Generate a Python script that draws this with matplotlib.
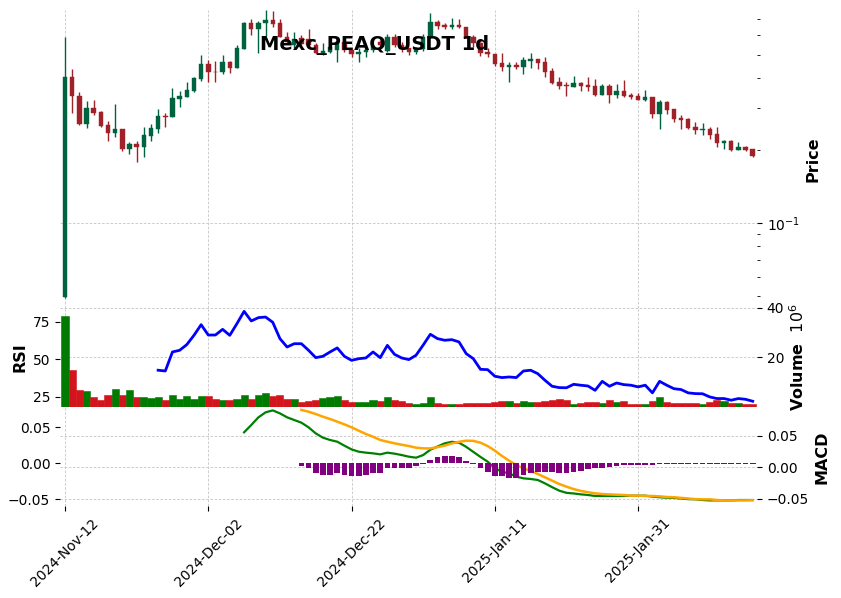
import numpy as np
import pandas as pd
import matplotlib
matplotlib.use("Agg")
import matplotlib.pyplot as plt
from matplotlib.ticker import LogLocator, NullFormatter, FixedLocator

# ---- data (daily candles, Mexc PEAQ/USDT) ----
dates = pd.date_range("2024-11-12", periods=97, freq="D")

opens = [0.0493, 0.4035, 0.3365, 0.2576, 0.3000, 0.2888, 0.2551, 0.2363, 0.2455, 0.2028,
         0.2127, 0.2067, 0.2296, 0.2455, 0.2780, 0.2754, 0.3270, 0.3333, 0.3530, 0.3959,
         0.4568, 0.4250, 0.4232, 0.4656, 0.4396, 0.5272, 0.6759, 0.6383, 0.6759, 0.6956,
         0.6759, 0.5914, 0.5478, 0.5857, 0.5802, 0.5478, 0.5075, 0.5123, 0.5222, 0.5637,
         0.5222, 0.5026, 0.5123, 0.5222, 0.5637, 0.5172, 0.5914, 0.5478, 0.5323, 0.5123,
         0.5272, 0.5857, 0.6823, 0.6631, 0.6506, 0.6631, 0.6506, 0.5914, 0.5584, 0.5123,
         0.5026, 0.4612, 0.4438, 0.4524, 0.4438, 0.4701, 0.4792, 0.4656, 0.4272, 0.3847,
         0.3738, 0.3667, 0.3810, 0.3738, 0.3703, 0.3398, 0.3703, 0.3398, 0.3530, 0.3398,
         0.3365, 0.3239, 0.3333, 0.2834, 0.3178, 0.2972, 0.2728, 0.2701, 0.2502, 0.2432,
         0.2455, 0.2341, 0.2148, 0.2189, 0.2009, 0.2067, 0.2028]
highs = [0.5914, 0.4355, 0.3497, 0.3208, 0.3239, 0.2916, 0.2650, 0.3117, 0.2455, 0.2168,
         0.2189, 0.2502, 0.2576, 0.2972, 0.2860, 0.3633, 0.3530, 0.3847, 0.4035, 0.4979,
         0.4746, 0.4701, 0.4979, 0.4701, 0.5478, 0.6823, 0.7023, 0.6890, 0.7653, 0.7581,
         0.7023, 0.6203, 0.6203, 0.6028, 0.6383, 0.5584, 0.5584, 0.5746, 0.5746, 0.5746,
         0.5222, 0.5323, 0.5323, 0.5530, 0.5746, 0.6086, 0.6086, 0.5637, 0.5323, 0.5375,
         0.6086, 0.7437, 0.6956, 0.6759, 0.7090, 0.7023, 0.6506, 0.6028, 0.5637, 0.5323,
         0.5026, 0.5075, 0.4656, 0.4656, 0.4884, 0.5075, 0.4792, 0.4884, 0.4396, 0.4035,
         0.3847, 0.4074, 0.3847, 0.4035, 0.3959, 0.3774, 0.3774, 0.3774, 0.3921, 0.3463,
         0.3463, 0.3564, 0.3333, 0.3239, 0.3208, 0.2972, 0.2806, 0.2728, 0.2625, 0.2600,
         0.2502, 0.2502, 0.2210, 0.2210, 0.2168, 0.2087, 0.2028]
lows = [0.0490, 0.2860, 0.2551, 0.2479, 0.2806, 0.2502, 0.2189, 0.2274, 0.1990, 0.1933,
        0.1791, 0.1879, 0.2189, 0.2363, 0.2502, 0.2754, 0.3029, 0.3333, 0.3497, 0.3883,
        0.3847, 0.3847, 0.4152, 0.4192, 0.4396, 0.5272, 0.6028, 0.5075, 0.5971, 0.6506,
        0.5914, 0.5530, 0.5323, 0.5375, 0.5375, 0.5026, 0.4979, 0.5075, 0.4656, 0.5123,
        0.4884, 0.4656, 0.4884, 0.5123, 0.5323, 0.5123, 0.5375, 0.5123, 0.4979, 0.5026,
        0.5172, 0.5857, 0.6383, 0.6383, 0.6383, 0.6444, 0.5857, 0.5375, 0.4931, 0.4884,
        0.4481, 0.4272, 0.3847, 0.4355, 0.4152, 0.4396, 0.4355, 0.4035, 0.3774, 0.3597,
        0.3365, 0.3667, 0.3530, 0.3530, 0.3365, 0.3398, 0.3147, 0.3302, 0.3333, 0.3270,
        0.3239, 0.3208, 0.2728, 0.2455, 0.2834, 0.2625, 0.2455, 0.2455, 0.2341, 0.2318,
        0.2231, 0.2067, 0.2028, 0.1990, 0.2009, 0.1990, 0.1879]
closes = [0.4035, 0.3365, 0.2576, 0.3000, 0.2860, 0.2527, 0.2363, 0.2455, 0.2028, 0.2127,
          0.2067, 0.2318, 0.2479, 0.2780, 0.2754, 0.3302, 0.3365, 0.3564, 0.3997, 0.4568,
          0.4232, 0.4232, 0.4656, 0.4396, 0.5323, 0.6759, 0.6383, 0.6759, 0.6956, 0.6694,
          0.5914, 0.5637, 0.5802, 0.5530, 0.5478, 0.5075, 0.5172, 0.5375, 0.5637, 0.5222,
          0.5026, 0.5123, 0.5222, 0.5425, 0.5478, 0.5914, 0.5478, 0.5272, 0.5123, 0.5272,
          0.5914, 0.6823, 0.6568, 0.6506, 0.6631, 0.6506, 0.5857, 0.5584, 0.5075, 0.5026,
          0.4568, 0.4438, 0.4524, 0.4438, 0.4746, 0.4792, 0.4612, 0.4232, 0.3810, 0.3703,
          0.3690, 0.3810, 0.3703, 0.3667, 0.3398, 0.3703, 0.3398, 0.3530, 0.3365, 0.3333,
          0.3239, 0.3333, 0.2834, 0.3178, 0.2944, 0.2701, 0.2676, 0.2479, 0.2432, 0.2455,
          0.2318, 0.2148, 0.2189, 0.2009, 0.2067, 0.2009, 0.1897]

# volume in millions
volume = [36.7, 14.8, 6.8, 6.4, 4.0, 2.7, 4.8, 7.2, 4.8, 6.8,
          4.0, 4.0, 3.5, 4.0, 2.7, 4.8, 3.1, 4.4, 3.1, 4.4,
          4.4, 3.1, 2.7, 2.7, 3.1, 4.8, 3.1, 4.8, 5.6, 4.4,
          4.8, 3.1, 3.1, 2.1, 2.3, 2.7, 3.4, 3.8, 4.2, 2.7,
          1.9, 1.9, 1.9, 2.7, 2.3, 3.8, 2.7, 2.3, 1.5, 1.0,
          1.7, 3.8, 1.5, 1.1, 1.1, 1.1, 1.4, 1.4, 1.4, 1.4,
          1.8, 2.2, 2.2, 1.4, 2.2, 1.8, 1.8, 2.2, 2.6, 3.1,
          2.6, 1.1, 1.4, 1.8, 1.8, 1.4, 2.7, 1.8, 2.2, 1.1,
          1.0, 1.0, 2.2, 3.8, 1.8, 1.4, 1.4, 1.4, 1.4, 1.0,
          1.8, 2.6, 2.2, 1.4, 1.4, 1.0, 1.0]

nan = np.nan
rsi = [nan] * 13 + [
    42.7, 42.2, 54.9, 56.0, 59.8, 66.0, 73.1, 66.2, 66.2, 70.0,
    66.0, 73.8, 82.0, 75.6, 77.8, 78.2, 74.7, 63.8, 58.2, 60.4,
    60.4, 56.0, 51.1, 52.0, 54.9, 57.6, 52.0, 49.3, 50.4, 50.9,
    54.9, 51.1, 59.3, 53.3, 50.9, 49.8, 52.7, 59.5, 66.7, 63.8,
    62.7, 63.1, 61.6, 53.8, 50.4, 43.3, 43.1, 38.7, 37.8, 38.2,
    37.8, 42.2, 42.7, 40.4, 36.0, 32.0, 31.1, 31.0, 33.3, 32.7,
    32.2, 29.3, 35.3, 32.0, 34.2, 33.1, 32.7, 31.6, 32.7, 27.6,
    35.3, 32.7, 30.4, 29.8, 27.6, 27.1, 27.0, 24.9, 23.8, 23.8,
    22.7, 23.8, 23.3, 22.0]

macd_line = [nan] * 25 + [
    0.0551, 0.0667, 0.0789, 0.0868, 0.0899, 0.0852, 0.0789, 0.0746, 0.0704, 0.0630,
    0.0534, 0.0466, 0.0429, 0.0402, 0.0339, 0.0280, 0.0243, 0.0228, 0.0217, 0.0201,
    0.0228, 0.0212, 0.0190, 0.0164, 0.0148, 0.0190, 0.0275, 0.0325, 0.0376, 0.0400,
    0.0386, 0.0320, 0.0240, 0.0160, 0.0085, -0.0020, -0.0074, -0.0100, -0.0153, -0.0180,
    -0.0190, -0.0206, -0.0260, -0.0320, -0.0376, -0.0410, -0.0420, -0.0434, -0.0444, -0.0460,
    -0.0460, -0.0460, -0.0460, -0.0460, -0.0455, -0.0455, -0.0455, -0.0470, -0.0480, -0.0487,
    -0.0490, -0.0500, -0.0510, -0.0513, -0.0524, -0.0530, -0.0530, -0.0530, -0.0530, -0.0524,
    -0.0524, -0.0524]

signal_line = [nan] * 33 + [
    0.0905, 0.0878, 0.0841, 0.0799, 0.0762, 0.0720, 0.0677, 0.0630, 0.0577, 0.0524,
    0.0481, 0.0429, 0.0402, 0.0376, 0.0354, 0.0333, 0.0307, 0.0296, 0.0295, 0.0315,
    0.0340, 0.0375, 0.0400, 0.0418, 0.0415, 0.0386, 0.0333, 0.0260, 0.0175, 0.0100,
    0.0030, -0.0020, -0.0064, -0.0110, -0.0164, -0.0217, -0.0270, -0.0312, -0.0350, -0.0380,
    -0.0400, -0.0418, -0.0429, -0.0435, -0.0440, -0.0445, -0.0455, -0.0455, -0.0460, -0.0460,
    -0.0466, -0.0476, -0.0480, -0.0490, -0.0500, -0.0510, -0.0513, -0.0513, -0.0524, -0.0530,
    -0.0530, -0.0530, -0.0530, -0.0527]

macd_hist = [nan] * 33 + [
    -0.0032, -0.0069, -0.0130, -0.0162, -0.0162, -0.0130, -0.0162, -0.0176, -0.0176, -0.0162,
    -0.0130, -0.0130, -0.0069, -0.0060, -0.0069, -0.0069, -0.0032, -0.0015, 0.0045, 0.0093,
    0.0106, 0.0106, 0.0093, 0.0030, -0.0010, -0.0060, -0.0120, -0.0170, -0.0180, -0.0200,
    -0.0200, -0.0160, -0.0140, -0.0120, -0.0120, -0.0120, -0.0140, -0.0140, -0.0120, -0.0100,
    -0.0080, -0.0070, -0.0060, -0.0045, -0.0040, -0.0030, -0.0030, -0.0020, -0.0018, -0.0018,
    -0.0015, -0.0015, -0.0015, -0.0014, -0.0014, -0.0013, -0.0013, -0.0012, -0.0012, -0.0011,
    -0.0011, -0.0010, -0.0010, -0.0010]

title = "Mexc_PEAQ_USDT 1d"
tick_idx = [0, 20, 40, 60, 80]

# ---- styling ----
up_col, down_col = "#006340", "#a02128"
vol_up, vol_down = "#007a00", "#d3141c"
grid_kw = dict(color="#c4c4c4", linestyle=(0, (3, 2)), linewidth=0.6)

o = np.array(opens); h = np.array(highs); l = np.array(lows); c = np.array(closes)
x = np.arange(len(o))
is_up = c >= o

W, H = 841, 598
fig = plt.figure(figsize=(W / 100, H / 100), dpi=100)
left, width = 60 / W, 697 / W
top_px, main_bot, rsi_bot, macd_bot = 10, 307.6, 406.8, 506

def rect(t, b):
    return [left, 1 - b / H, width, (b - t) / H]

ax_p = fig.add_axes(rect(top_px, main_bot))
ax_v = fig.add_axes(rect(main_bot, rsi_bot), sharex=ax_p)
ax_m = fig.add_axes(rect(rsi_bot, macd_bot), sharex=ax_p)
ax_r = ax_v.twinx()
ax_h = ax_m.twinx()

# ---- candles ----
cols = np.where(is_up, up_col, down_col)
ax_p.set_yscale("log")
ax_p.vlines(x, l, h, colors=cols, linewidth=1.0, zorder=2)
body_lo = np.minimum(o, c)
body_hi = np.maximum(o, c)
body_hi = np.maximum(body_hi, body_lo * 1.004)
ax_p.bar(x, body_hi - body_lo, bottom=body_lo, width=0.62, color=cols,
         edgecolor=cols, linewidth=0.3, zorder=3)
ax_p.set_ylim(0.0446, 0.7653)
ax_p.yaxis.tick_right()
ax_p.yaxis.set_major_locator(LogLocator(base=10, subs=(1.0,)))
ax_p.yaxis.set_minor_locator(LogLocator(base=10, subs=np.arange(2, 10)))
ax_p.yaxis.set_minor_formatter(NullFormatter())
ax_p.grid(True, which="major", **grid_kw)
ax_p.set_axisbelow(True)

# ---- volume + RSI ----
vcols = np.where(is_up, vol_up, vol_down)
ax_v.bar(x, volume, width=1.0, color=vcols, edgecolor=vcols, linewidth=0.4, zorder=2)
ax_v.set_ylim(0, 40)
ax_v.yaxis.tick_right()
ax_v.yaxis.set_major_locator(FixedLocator([20, 40]))
ax_v.grid(True, **grid_kw)
ax_v.set_axisbelow(True)

ax_r.plot(x, rsi, color="blue", linewidth=2.0, zorder=4)
ax_r.set_ylim(18.3, 84.5)
ax_r.yaxis.tick_left()
ax_r.yaxis.set_major_locator(FixedLocator([25, 50, 75]))

# ---- MACD ----
ax_m.plot(x, macd_line, color="green", linewidth=1.6, zorder=3)
ax_m.plot(x, signal_line, color="orange", linewidth=1.8, zorder=3)
ax_m.set_ylim(-0.0619, 0.0956)
ax_m.yaxis.tick_right()
ax_m.yaxis.set_major_locator(FixedLocator([-0.05, 0.0, 0.05]))
ax_m.grid(True, **grid_kw)
ax_m.set_axisbelow(True)

ax_h.bar(x, macd_hist, width=0.8, color="purple", zorder=2)
ax_h.set_ylim(-0.0593, 0.0785)
ax_h.yaxis.tick_left()
ax_h.yaxis.set_major_locator(FixedLocator([-0.05, 0.0, 0.05]))

# ---- shared x ----
ax_p.set_xlim(-0.7, len(o) - 1 + 0.6)
ax_m.set_xticks(tick_idx)
ax_m.set_xticklabels([dates[i].strftime("%Y-%b-%d") for i in tick_idx],
                     rotation=45, ha="center", fontsize=10)
for a in (ax_p, ax_v, ax_r, ax_h):
    a.tick_params(axis="x", length=0, labelbottom=False)
for a in (ax_p, ax_v, ax_r, ax_m, ax_h):
    for s in a.spines.values():
        s.set_visible(False)
    a.tick_params(axis="y", labelsize=10)

# ---- labels ----
fig.text(375 / W, 1 - 45 / H, title, ha="center", va="center",
         fontsize=14, fontweight="bold")
fig.text(813 / W, 1 - 159 / H, "Price", rotation=90, ha="center", va="center",
         fontsize=11.5, fontweight="bold")
fig.text(798 / W, 1 - 357 / H, "Volume  $10^{6}$", rotation=90, ha="center",
         va="center", fontsize=11.5, fontweight="bold")
fig.text(822 / W, 1 - 457 / H, "MACD", rotation=90, ha="center", va="center",
         fontsize=11.5, fontweight="bold")
fig.text(20 / W, 1 - 357 / H, "RSI", rotation=90, ha="center", va="center",
         fontsize=11.5, fontweight="bold")

fig.savefig("out.png", dpi=100)
